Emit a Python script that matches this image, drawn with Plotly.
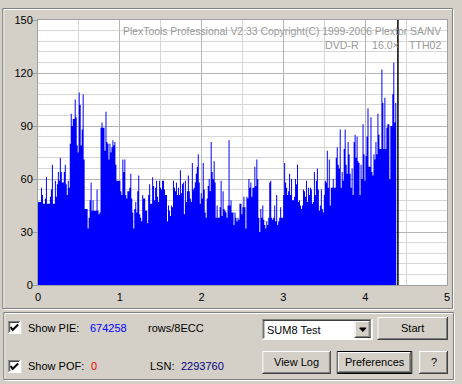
import plotly.graph_objects as go

# ---------------- data ----------------
pie_part1 = [47, 47, 47, 55, 51, 46, 46, 49, 61, 46, 46, 46, 50, 54, 68, 46, 46, 59, 50, 57,
             64, 59, 72, 64, 58, 58, 64, 68, 57, 51, 59, 55, 80, 97, 90, 94, 94, 105, 95, 79,
             75, 109, 102, 79, 88, 108, 71, 43, 43, 43, 32, 38, 48, 58, 42, 48, 42, 42, 42, 54,
             42, 40, 41, 89, 92, 89, 89, 76, 98, 81, 80, 71, 80, 75, 78, 82, 79, 81, 68, 59,
             59, 59, 59, 53, 51, 71, 64, 71, 51, 49, 53, 53]
pie_part2 = [55, 63, 49, 41, 32, 43, 47, 41, 53, 62, 40, 38, 36, 51, 49, 49, 42, 42, 35, 51,
             57, 46, 46, 61, 56, 48, 55, 59, 50, 47, 59, 55, 54, 59, 59, 54, 51, 51, 36, 45,
             42, 39, 45, 44, 59, 55, 53, 58, 51, 55, 51, 65, 52, 57, 58, 40, 59, 47, 53, 62,
             53, 49, 47, 69, 54, 55, 58, 63, 67, 74, 58, 46, 52, 49, 69, 54, 41, 38, 49, 56,
             60, 53, 81, 64, 60, 70, 58, 38, 45, 38]
pie_part3 = [38, 44, 59, 39, 53, 43, 42, 41, 38, 45, 82, 45, 48, 41, 41, 34, 41, 38, 36, 38,
             37, 46, 46, 40, 44, 50, 44, 32, 50, 49, 60, 55, 58, 50, 55, 55, 67, 56, 71, 60,
             38, 30, 43, 38, 45, 37, 34, 32, 36, 34, 38, 58, 59, 38, 37, 38, 45, 36, 51, 34,
             36, 38, 44, 38, 38, 51, 69, 58, 55, 51, 53, 63, 51, 60, 48, 48, 50, 60, 57, 68,
             47, 48, 45, 43, 45, 54, 53, 50, 59, 47]
pie_part4 = [55, 51, 55, 54, 46, 47, 64, 51, 59, 66, 54, 42, 45, 54, 43, 41, 51, 59, 58, 76,
             55, 71, 45, 55, 55, 60, 55, 55, 72, 78, 68, 66, 88, 55, 64, 59, 77, 88, 68, 63,
             81, 74, 63, 55, 66, 51, 81, 85, 72, 84, 70, 69, 51, 68, 60, 91, 74, 59, 73, 84,
             100, 67, 67, 95, 64, 62, 74, 71, 81, 74, 97, 85, 77, 77, 122, 103, 77, 106, 77, 89,
             91, 91, 60, 90, 90, 108, 126, 92, 103]
pie_values = pie_part1 + pie_part2 + pie_part3 + pie_part4
scan_end_gb = 4.38
cursor_gb = 4.40
x_tick_vals = [0, 1, 2, 3, 4, 5]
y_tick_vals = [0, 30, 60, 90, 120, 150]

n = len(pie_values)
step = scan_end_gb / n
xs = [i * step for i in range(n + 1)]
ys = pie_values + [pie_values[-1]]

# ---------------- geometry helpers ----------------
W, H = 462, 384
L, R, T, B = 38, 12, 20, 99
PW = W - L - R
PH = H - T - B
BG = '#D4D0C8'
FONT = 'Liberation Sans, Arial, sans-serif'


def fx(p):
    return (p - L) / PW


def fy(p):
    return (H - B - p) / PH


shapes = []
annotations = []


def line(x0, y0, x1, y1, color, width=1):
    shapes.append(dict(type='line', xref='paper', yref='paper', x0=fx(x0), y0=fy(y0),
                       x1=fx(x1), y1=fy(y1), line=dict(color=color, width=width), layer='above'))


def rect(x0, y0, x1, y1, fill=None, color=None, width=1):
    shapes.append(dict(type='rect', xref='paper', yref='paper', x0=fx(x0), x1=fx(x1),
                       y0=fy(y1), y1=fy(y0), fillcolor=fill or 'rgba(0,0,0,0)',
                       line=dict(color=color or 'rgba(0,0,0,0)', width=width if color else 0),
                       layer='above'))


def path(pts, color, width=1, fill=None):
    d = 'M' + ' L'.join('%f,%f' % (fx(a), fy(b)) for a, b in pts)
    if fill:
        d += ' Z'
    shapes.append(dict(type='path', xref='paper', yref='paper', path=d,
                       line=dict(color=color, width=width),
                       fillcolor=fill or 'rgba(0,0,0,0)', layer='above'))


def etched(x0, y0, x1, y1):
    rect(x0 + 1.5, y0 + 1.5, x1 + 0.5, y1 + 0.5, color='#FFFFFF')
    rect(x0 + 0.5, y0 + 0.5, x1 - 0.5, y1 - 0.5, color='#808080')


def raised(x0, y0, x1, y1):
    rect(x0, y0, x1, y1, fill=BG)
    line(x0, y0 + 0.5, x1 - 1, y0 + 0.5, '#FFFFFF')
    line(x0 + 0.5, y0, x0 + 0.5, y1 - 1, '#FFFFFF')
    line(x0, y1 - 0.5, x1, y1 - 0.5, '#404040')
    line(x1 - 0.5, y0, x1 - 0.5, y1, '#404040')
    line(x0 + 1, y1 - 1.5, x1 - 1, y1 - 1.5, '#808080')
    line(x1 - 1.5, y0 + 1, x1 - 1.5, y1 - 1, '#808080')


def sunken(x0, y0, x1, y1, fill='#FFFFFF'):
    rect(x0, y0, x1, y1, fill=fill)
    line(x0, y0 + 0.5, x1 - 1, y0 + 0.5, '#808080')
    line(x0 + 0.5, y0, x0 + 0.5, y1 - 1, '#808080')
    line(x0 + 1, y0 + 1.5, x1 - 2, y0 + 1.5, '#404040')
    line(x0 + 1.5, y0 + 1, x0 + 1.5, y1 - 2, '#404040')
    line(x0, y1 - 0.5, x1, y1 - 0.5, '#FFFFFF')
    line(x1 - 0.5, y0, x1 - 0.5, y1, '#FFFFFF')


def text(x, y, s, color='#000000', anchor='left', size=11):
    annotations.append(dict(xref='paper', yref='paper', x=fx(x), y=fy(y), text=s,
                            showarrow=False, xanchor=anchor, yanchor='middle',
                            font=dict(family=FONT, size=size, color=color), borderpad=0))


# chart frame and control group box
etched(2, 8, 456, 309)
etched(3, 312, 457, 380)

# watermark
WM = '#9a9a9a'
text(445, 32, 'PlexTools Professional V2.33 Copyright(C) 1999-2006 Plextor SA/NV', WM, 'right', 10.4)
text(362, 45, 'DVD-R', WM, 'right', 10.6)
text(373, 45, '16.0×', WM, 'left', 10.6)
text(445, 45, 'TTH02', WM, 'right', 10.6)

# checkboxes
for cy in (321, 360):
    sunken(8, cy, 21, cy + 13)
    path([(10.5, cy + 6), (12.5, cy + 9), (18, cy + 3.5)], '#000000', 2)

text(27, 328, 'Show PIE:')
text(89, 328, '674258', '#0000FF')
text(148, 328, 'rows/8ECC')
text(27, 366, 'Show POF:')
text(90, 366, '0', '#FF0000')
text(150, 366, 'LSN:')
text(181, 366, '2293760', '#000080')

# combo box
sunken(264, 319, 375, 340)
raised(357, 321, 373, 338)
path([(362, 328), (368.5, 328), (365.25, 331.5)], '#000000', 1, fill='#000000')
text(268, 330, 'SUM8 Test')

# buttons
raised(380, 317, 451, 340)
text(415.5, 328, 'Start', anchor='center')
raised(264, 351, 333, 374)
text(298.5, 362, 'View Log', anchor='center')
rect(339.5, 351.5, 414.5, 373.5, color='#000000')
raised(340, 352, 414, 373)
text(377, 362, 'Preferences', anchor='center')
raised(422, 351, 451, 374)
text(436.5, 362, '?', anchor='center')

# position cursor
shapes.append(dict(type='line', xref='x', yref='y', x0=cursor_gb, x1=cursor_gb, y0=0, y1=150,
                   line=dict(color='#000000', width=1.5), layer='above'))

fig = go.Figure(go.Scatter(x=xs, y=ys, mode='lines', line=dict(shape='hv', width=0, color='#0000FF'),
                           fill='tozeroy', fillcolor='#0000FF', hoverinfo='skip'))

fig.update_layout(
    width=W, height=H,
    margin=dict(l=L, r=R, t=T, b=B, pad=0),
    paper_bgcolor=BG, plot_bgcolor='#FFFFFF',
    showlegend=False,
    font=dict(family=FONT, size=11, color='#000000'),
    xaxis=dict(range=[0, 5], tickvals=x_tick_vals, ticks='', showgrid=True,
               gridcolor='#b4b4b4', gridwidth=1, ticklabelstandoff=2,
               minor=dict(tick0=0, dtick=0.5, showgrid=True, gridcolor='#d6d6d6', ticks=''),
               showline=True, linecolor='#a0a0a0', mirror=True, zeroline=False,
               fixedrange=True, tickfont=dict(family=FONT, size=11, color='#000000')),
    yaxis=dict(range=[0, 150], tickvals=y_tick_vals, ticks='outside', ticklen=5,
               tickcolor='#a0a0a0', showgrid=True, gridcolor='#b4b4b4', ticklabelstandoff=-3,
               minor=dict(tick0=0, dtick=6, showgrid=True, gridcolor='#d6d6d6', ticks=''),
               showline=True, linecolor='#a0a0a0', mirror=True, zeroline=False,
               fixedrange=True, tickfont=dict(family=FONT, size=11, color='#000000')),
    shapes=shapes,
    annotations=annotations,
)

fig.write_html("out.html", config={'displayModeBar': False, 'staticPlot': True},
               post_script="document.body.style.margin='0';document.body.style.overflow='hidden';")
